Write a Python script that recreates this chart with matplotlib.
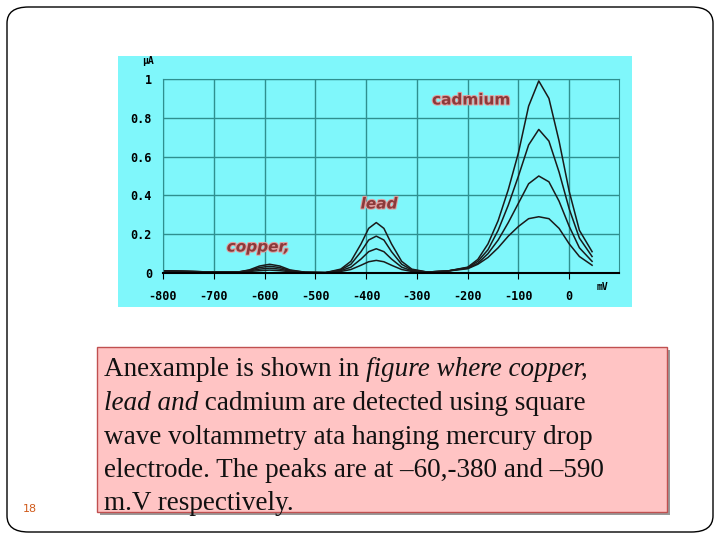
import matplotlib
matplotlib.use("Agg")
import matplotlib.pyplot as plt
from matplotlib.patches import FancyBboxPatch, Rectangle
import matplotlib.patheffects as pe

W, H = 720, 540
x_ticks = [-800, -700, -600, -500, -400, -300, -200, -100, 0]
y_ticks = [0, 0.2, 0.4, 0.6, 0.8, 1]
y_labels = ["0", "0.2", "0.4", "0.6", "0.8", "1"]

x_mv = [-810, -750, -700, -650, -630, -610, -590, -570, -550, -520, -480, -450, -430, -410,
        -395, -380, -365, -350, -330, -310, -280, -240, -200, -180, -160, -140, -120, -100,
        -80, -60, -40, -20, 0, 20, 45]
curve1 = [0.012, 0.008, 0.005, 0.006, 0.016, 0.036, 0.045, 0.036, 0.016, 0.004, 0.002, 0.02, 0.06, 0.15,
          0.23, 0.26, 0.23, 0.15, 0.06, 0.02, 0.005, 0.01, 0.03, 0.07, 0.15, 0.27, 0.43, 0.62,
          0.86, 0.99, 0.9, 0.68, 0.42, 0.22, 0.11]
curve2 = [0.012, 0.008, 0.005, 0.006, 0.014, 0.028, 0.035, 0.028, 0.013, 0.004, 0.002, 0.016, 0.045, 0.11,
          0.17, 0.19, 0.17, 0.11, 0.045, 0.016, 0.005, 0.01, 0.028, 0.06, 0.12, 0.22, 0.35, 0.5,
          0.66, 0.74, 0.68, 0.52, 0.33, 0.18, 0.085]
curve3 = [0.012, 0.008, 0.005, 0.005, 0.011, 0.02, 0.025, 0.02, 0.01, 0.003, 0.002, 0.012, 0.03, 0.072,
          0.11, 0.125, 0.11, 0.072, 0.03, 0.012, 0.005, 0.01, 0.025, 0.05, 0.1, 0.17, 0.26, 0.36,
          0.46, 0.5, 0.47, 0.37, 0.24, 0.13, 0.06]
curve4 = [0.012, 0.008, 0.005, 0.005, 0.008, 0.012, 0.015, 0.012, 0.007, 0.003, 0.002, 0.008, 0.018, 0.04,
          0.058, 0.065, 0.058, 0.04, 0.018, 0.008, 0.005, 0.01, 0.022, 0.045, 0.08, 0.13, 0.19, 0.24,
          0.28, 0.29, 0.28, 0.23, 0.15, 0.085, 0.04]
curves = [curve1, curve2, curve3, curve4]

fig = plt.figure(figsize=(7.2, 5.4), dpi=100)
fig.patch.set_facecolor("white")

def fx(px): return px / W
def fy(py): return 1 - py / H

fig.patches.append(FancyBboxPatch((fx(7), fy(532)), fx(706), (532 - 7) / H,
                                  boxstyle="round,pad=0,rounding_size=0.03",
                                  transform=fig.transFigure, fill=False, ec="black", lw=1, zorder=-2))
fig.patches.append(Rectangle((fx(118), fy(307)), fx(514), (307 - 56) / H,
                             transform=fig.transFigure, fc="#7ff7fb", ec="none", zorder=-2))

ax = fig.add_axes([fx(163), fy(273), fx(619 - 163), (273 - 79) / H])
ax.set_facecolor("#7ff7fb")
for c in curves:
    ax.plot(x_mv, c, color="#1a1a1a", lw=1.1)
ax.set_xlim(-800, 98)
ax.set_ylim(0, 1)
ax.set_xticks(x_ticks)
ax.set_xticklabels([str(t) for t in x_ticks], family="DejaVu Sans Mono", fontsize=8.5, weight="bold")
ax.set_yticks(y_ticks)
ax.set_yticklabels(y_labels, family="DejaVu Sans Mono", fontsize=8.5, weight="bold")
ax.set_axisbelow(True)
ax.grid(True, color="#2f8f8f", lw=1)
ax.tick_params(axis="x", direction="out", length=4, color="black", pad=8)
ax.tick_params(axis="y", length=0, pad=8)
for s in ["top", "right", "left"]:
    ax.spines[s].set_color("#2f8f8f")
ax.spines["bottom"].set_color("black")
ax.spines["bottom"].set_linewidth(1.5)

fig.text(fx(597), fy(290), "mV", family="DejaVu Sans Mono", fontsize=7, weight="bold")
fig.text(fx(142), fy(64), "μA", family="DejaVu Sans Mono", fontsize=7, weight="bold")

eff = [pe.withStroke(linewidth=1.5, foreground="#e0a0a0")]
fig.text(fx(471), fy(100), "cadmium", ha="center", va="center", fontsize=11, weight="bold",
         color="#8b3a3a", path_effects=eff)
fig.text(fx(379), fy(204), "lead", ha="center", va="center", fontsize=11, weight="bold",
         style="italic", color="#8b3a3a", path_effects=eff)
fig.text(fx(258), fy(247), "copper,", ha="center", va="center", fontsize=11, weight="bold",
         style="italic", color="#8b3a3a", path_effects=eff)

fig.patches.append(Rectangle((fx(100), fy(515)), fx(570), (515 - 350) / H,
                             transform=fig.transFigure, fc="#999999", ec="none", zorder=-1))
fig.patches.append(Rectangle((fx(97), fy(512)), fx(570), (512 - 347) / H,
                             transform=fig.transFigure, fc="#ffc4c4", ec="#c05050", lw=1, zorder=-1))

serif = "Liberation Serif"
lines = [
    [("Anexample is shown in ", "normal"), ("figure where copper,", "italic")],
    [("lead and", "italic"), (" cadmium are detected using square", "normal")],
    [("wave voltammetry ata hanging mercury drop", "normal")],
    [("electrode. The peaks are at \u201360,-380 and \u2013590", "normal")],
    [("m.V respectively.", "normal")],
]
fig.canvas.draw()
r = fig.canvas.get_renderer()
for i, parts in enumerate(lines):
    xpx = 104
    ypx = 370 + i * 33.5
    for txt, st in parts:
        t = fig.text(fx(xpx), fy(ypx), txt, family=serif, style=st, fontsize=19.5,
                     va="center", ha="left", color="#111111")
        bb = t.get_window_extent(renderer=r)
        xpx += bb.width

fig.text(fx(30), fy(509), "18", ha="center", va="center", fontsize=8, color="#d05a1a")

fig.savefig("out.png", dpi=100)
